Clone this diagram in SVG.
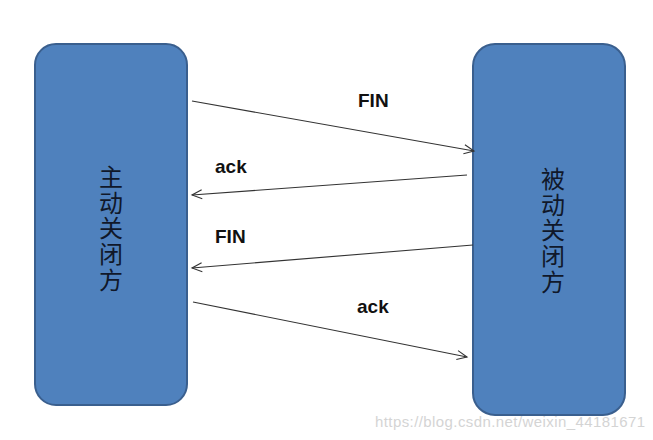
<svg xmlns="http://www.w3.org/2000/svg" width="653" height="440" viewBox="0 0 653 440">
<style>
.box{fill:#4f81bd;stroke:#3a5f8e;stroke-width:2}
.cjk{font-family:"Noto Sans CJK SC","Noto Sans CJK TC",sans-serif;font-size:24px;fill:#10182a;writing-mode:vertical-rl;text-orientation:upright;letter-spacing:1.6px}
.lbl{font-family:"Liberation Sans",Arial,sans-serif;font-weight:bold;font-size:19px;fill:#111}
.conn{stroke:#333;stroke-width:1.1;fill:none}
.wm{font-family:"Liberation Sans",Arial,sans-serif;font-size:15px;fill:#d4d4d4}
</style>
<defs>
<marker id="arr" markerUnits="userSpaceOnUse" markerWidth="14" markerHeight="12" refX="11" refY="6" orient="auto">
<path d="M1,1.5 L11,6 L1,10.5" fill="none" stroke="#333" stroke-width="1.1"/>
</marker>
</defs>
<rect width="653" height="440" fill="#fff"/>
<g id="active">
<rect class="box" x="35" y="44" width="152" height="361" rx="21" ry="21"/>
<text class="cjk" x="111" y="165">主动关闭方</text>
</g>
<g id="passive">
<rect class="box" x="473" y="44" width="152" height="371" rx="22" ry="22"/>
<text class="cjk" x="553" y="167">被动关闭方</text>
</g>
<g id="connectors">
<line class="conn" x1="192" y1="101" x2="474" y2="151" marker-end="url(#arr)"/>
<line class="conn" x1="467" y1="175" x2="192" y2="195" marker-end="url(#arr)"/>
<line class="conn" x1="473" y1="245" x2="192" y2="268" marker-end="url(#arr)"/>
<line class="conn" x1="193" y1="302" x2="467" y2="357" marker-end="url(#arr)"/>
<text class="lbl" x="358" y="107">FIN</text>
<text class="lbl" x="215" y="173">ack</text>
<text class="lbl" x="215" y="243">FIN</text>
<text class="lbl" x="357" y="313">ack</text>
</g>
<text class="wm" x="375" y="427" textLength="270">https://blog.csdn.net/weixin_44181671</text>
</svg>
